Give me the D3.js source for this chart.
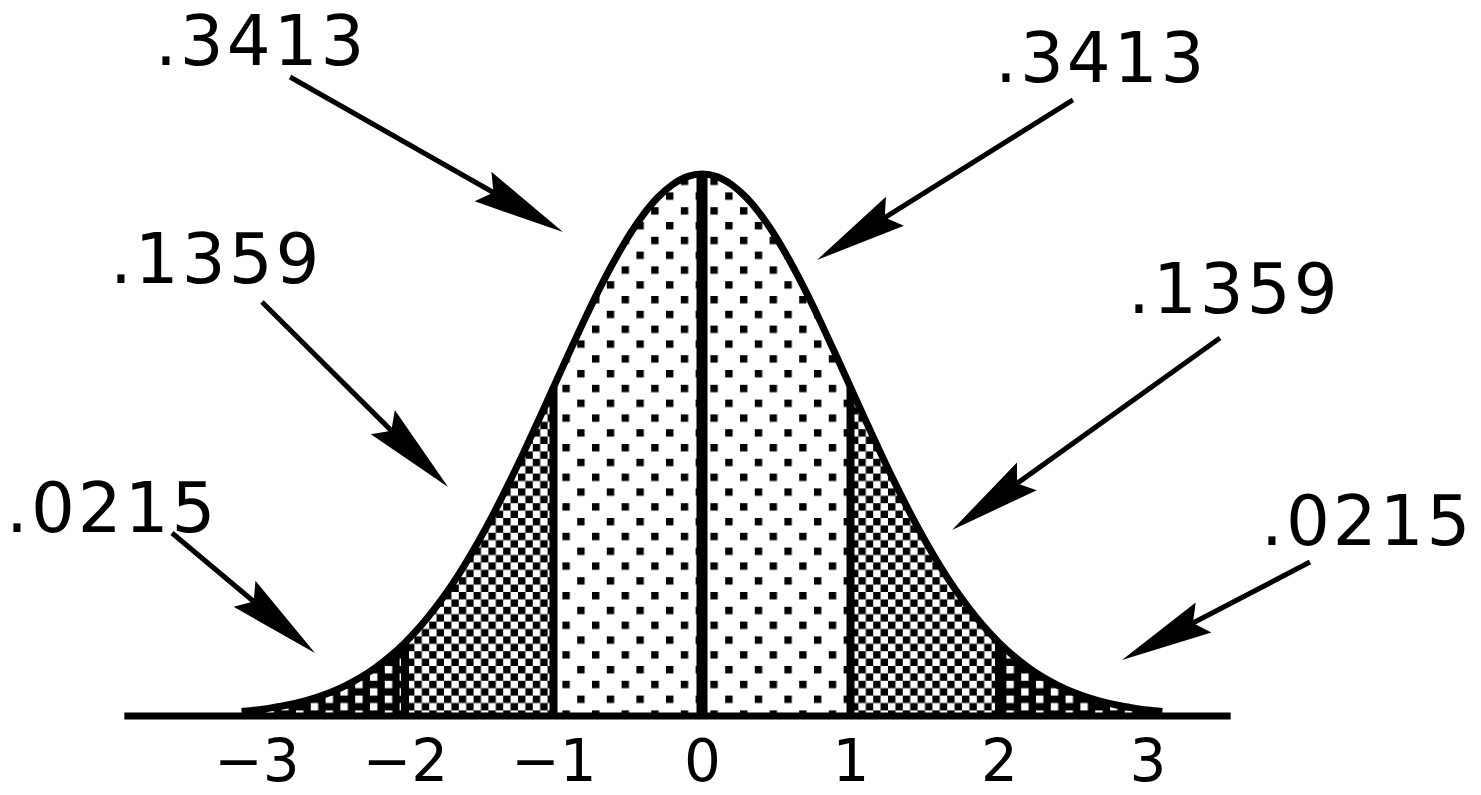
<!DOCTYPE html>
<html>
<head>
<meta charset="utf-8">
<script src="https://cdn.jsdelivr.net/npm/d3@7"></script>
<style>
  html, body { margin: 0; padding: 0; background: #fff; }
  svg { display: block; }
  text { font-family: "DejaVu Sans", sans-serif; fill: #000; }
</style>
</head>
<body>
<svg id="chart" width="1481" height="795"></svg>
<script>
// ---- data ----
const zValues = [-3.1,-3.0,-2.9,-2.8,-2.7,-2.6,-2.5,-2.4,-2.3,-2.2,-2.1,-2.0,-1.9,-1.8,-1.7,-1.6,-1.5,-1.4,-1.3,-1.2,-1.1,-1.0,
  -0.9,-0.8,-0.7,-0.6,-0.5,-0.4,-0.3,-0.2,-0.1,0.0,0.1,0.2,0.3,0.4,0.5,0.6,0.7,0.8,0.9,1.0,1.1,1.2,1.3,1.4,1.5,1.6,1.7,1.8,1.9,2.0,
  2.1,2.2,2.3,2.4,2.5,2.6,2.7,2.8,2.9,3.0,3.1];
const density = [0.0033,0.0044,0.0060,0.0079,0.0104,0.0136,0.0175,0.0224,0.0283,0.0355,0.0440,0.0540,0.0656,0.0790,0.0940,0.1109,
  0.1295,0.1497,0.1714,0.1942,0.2179,0.2420,0.2661,0.2897,0.3123,0.3332,0.3521,0.3683,0.3814,0.3910,0.3970,0.3989,0.3970,0.3910,
  0.3814,0.3683,0.3521,0.3332,0.3123,0.2897,0.2661,0.2420,0.2179,0.1942,0.1714,0.1497,0.1295,0.1109,0.0940,0.0790,0.0656,0.0540,
  0.0440,0.0355,0.0283,0.0224,0.0175,0.0136,0.0104,0.0079,0.0060,0.0044,0.0033];
const tickValues = [-3,-2,-1,0,1,2,3];
const tickLabels = ["\u22123","\u22122","\u22121","0","1","2","3"];
const regionBounds = [[-3.1,-3],[-3,-2],[-2,-1],[-1,0],[0,1],[1,2],[2,3],[3,3.1]];
const regionFills  = ["solid","dark","checker","dots","dots","checker","dark","solid"];
const dividers = [-2,-1,0,1,2];
const areaLabels = [".3413",".3413",".1359",".1359",".0215",".0215"];
// annotation anchors in data units (z, density): label origin, line start, arrow tip
const labelAt = [[-3.684,0.4790],[1.973,0.4666],[-3.987,0.3187],[2.869,0.2966],[-4.687,0.1354],[3.764,0.1259]];
const lineFrom = [[-2.774,0.4703],[2.498,0.4534],[-2.963,0.3047],[3.488,0.2782],[-3.569,0.1347],[4.094,0.1133]];
const arrowTip = [[-0.936,0.3562],[0.774,0.3356],[-1.710,0.1685],[1.684,0.1369],[-2.606,0.0464],[2.828,0.0412]];
const baselineExtent = [-3.89, 3.56];

// ---- drawing ----
const svg = d3.select("#chart");
const x = d3.scaleLinear().domain([-3, 3]).range([256.5, 1147.5]);
const y = d3.scaleLinear().domain([0, 0.3989]).range([716, 174]);
const pts = zValues.map((z, i) => ({z, d: density[i]}));

const c = 7.4;
const defs = svg.append("defs");
const pDots = defs.append("pattern").attr("id", "dots").attr("patternUnits", "userSpaceOnUse")
  .attr("width", 4 * c).attr("height", 4 * c);
pDots.append("rect").attr("x", 0).attr("y", 0).attr("width", c).attr("height", c).attr("fill", "#000");
pDots.append("rect").attr("x", 2 * c).attr("y", 2 * c).attr("width", c).attr("height", c).attr("fill", "#000");
const pCheck = defs.append("pattern").attr("id", "checker").attr("patternUnits", "userSpaceOnUse")
  .attr("width", 2 * c).attr("height", 2 * c);
pCheck.append("rect").attr("x", 0).attr("y", 0).attr("width", c).attr("height", c).attr("fill", "#000");
pCheck.append("rect").attr("x", c).attr("y", c).attr("width", c).attr("height", c).attr("fill", "#000");
const pDark = defs.append("pattern").attr("id", "dark").attr("patternUnits", "userSpaceOnUse")
  .attr("width", 4 * c).attr("height", 2 * c);
pDark.append("rect").attr("width", 4 * c).attr("height", 2 * c).attr("fill", "#000");
pDark.append("rect").attr("x", 0).attr("y", 0).attr("width", c).attr("height", c).attr("fill", "#fff");
pDark.append("rect").attr("x", 2 * c).attr("y", c).attr("width", c).attr("height", c).attr("fill", "#fff");

const area = d3.area().x(p => x(p.z)).y0(y(0)).y1(p => y(p.d)).curve(d3.curveMonotoneX);
regionBounds.forEach((b, i) => {
  const sub = pts.filter(p => p.z >= b[0] - 1e-9 && p.z <= b[1] + 1e-9);
  svg.append("path").attr("d", area(sub))
    .attr("fill", regionFills[i] === "solid" ? "#000" : `url(#${regionFills[i]})`)
    .attr("stroke", "none").attr("shape-rendering", "crispEdges");
});

// dividers
const dens = z => pts.find(p => Math.abs(p.z - z) < 1e-9).d;
svg.selectAll("line.div").data(dividers).enter().append("line")
  .attr("class", "div")
  .attr("x1", d => x(d)).attr("x2", d => x(d))
  .attr("y1", y(0)).attr("y2", d => y(dens(d)))
  .attr("stroke", "#000").attr("stroke-width", d => d === 0 ? 11 : 8);

// curve
const line = d3.line().x(p => x(p.z)).y(p => y(p.d)).curve(d3.curveMonotoneX);
svg.append("path").attr("d", line(pts)).attr("fill", "none")
  .attr("stroke", "#000").attr("stroke-width", 7).attr("stroke-linejoin", "round");

// baseline
svg.append("line").attr("x1", x(baselineExtent[0])).attr("x2", x(baselineExtent[1]))
  .attr("y1", y(0)).attr("y2", y(0)).attr("stroke", "#000").attr("stroke-width", 7);

// axis labels
const axis = d3.axisBottom(x).tickValues(tickValues).tickSize(0).tickPadding(0)
  .tickFormat((d, i) => tickLabels[i]);
const gAx = svg.append("g").attr("transform", `translate(0,${y(0) + 65})`).call(axis);
gAx.select(".domain").remove();
gAx.selectAll("text").attr("font-family", "DejaVu Sans").attr("font-size", 58)
  .attr("fill", "#000").attr("dy", 0).attr("y", 0);

// arrows
areaLabels.forEach((t, i) => {
  const sx = x(lineFrom[i][0]), sy = y(lineFrom[i][1]);
  const tx = x(arrowTip[i][0]), ty = y(arrowTip[i][1]);
  const dx = sx - tx, dy = sy - ty, len = Math.hypot(dx, dy);
  const ux = dx / len, uy = dy / len, px = -uy, py = ux;
  const L = 92, hw = 17, notch = 80;
  svg.append("line").attr("x1", sx).attr("y1", sy)
    .attr("x2", tx + ux * notch).attr("y2", ty + uy * notch)
    .attr("stroke", "#000").attr("stroke-width", 5);
  const head = [
    [tx, ty],
    [tx + ux * L + px * hw, ty + uy * L + py * hw],
    [tx + ux * notch, ty + uy * notch],
    [tx + ux * L - px * hw, ty + uy * L - py * hw]
  ];
  svg.append("polygon").attr("points", head.map(p => p.join(",")).join(" ")).attr("fill", "#000");
  svg.append("text").attr("x", x(labelAt[i][0])).attr("y", y(labelAt[i][1]))
    .attr("font-size", 69).attr("letter-spacing", 3).text(t);
});
</script>
</body>
</html>
